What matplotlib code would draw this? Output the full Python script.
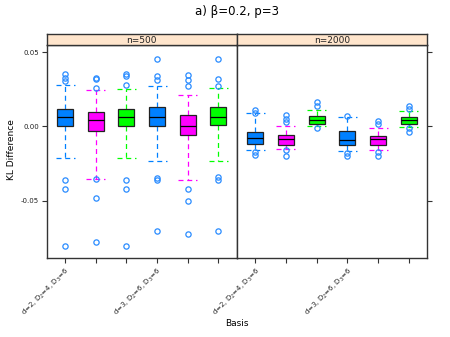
import numpy as np
import matplotlib
matplotlib.use('Agg')
import matplotlib.pyplot as plt

# box statistics (KL difference)
panels = ['n=500', 'n=2000']
basis_labels = ['d=2, D$_2$=4, D$_3$=6', '', '', 'd=3, D$_2$=6, D$_3$=6', '', '']
box_colors = ['#0080ff', '#ff00ff', '#00ff00', '#0080ff', '#ff00ff', '#00ff00']

# n=500
q1_500 = [0.0, -0.0029, 0.0, 0.0005, -0.0056, 0.0007]
med_500 = [0.0066, 0.0043, 0.0066, 0.0066, 0.0005, 0.0066]
q3_500 = [0.0120, 0.0095, 0.0120, 0.0128, 0.0076, 0.0128]
lo_500 = [-0.0210, -0.0356, -0.0210, -0.0230, -0.0358, -0.0230]
hi_500 = [0.0282, 0.0248, 0.0252, 0.0272, 0.0214, 0.0261]
out_500 = [
    [0.0351, 0.0329, 0.0306, -0.0358, -0.0419, -0.0809],
    [0.0329, 0.0318, 0.0261, -0.0356, -0.0482, -0.0782],
    [0.0356, 0.0338, 0.0282, -0.0358, -0.0419, -0.0809],
    [0.0457, 0.0342, 0.0315, -0.0347, -0.0360, -0.0707],
    [0.0347, 0.0315, 0.0275, -0.0421, -0.0500, -0.0725],
    [0.0457, 0.0320, 0.0275, -0.0338, -0.0358, -0.0707],
]

# n=2000
q1_2000 = [-0.0117, -0.0122, 0.0014, -0.0122, -0.0122, 0.0018]
med_2000 = [-0.0079, -0.0088, 0.0041, -0.0090, -0.0088, 0.0041]
q3_2000 = [-0.0038, -0.0056, 0.0068, -0.0032, -0.0063, 0.0063]
lo_2000 = [-0.0158, -0.0151, 0.0002, -0.0167, -0.0162, -0.0005]
hi_2000 = [0.0090, 0.0000, 0.0108, 0.0066, -0.0009, 0.0101]
out_2000 = [
    [0.0108, 0.0092, -0.0174, -0.0191],
    [0.0074, 0.0052, 0.0029, -0.0162, -0.0196],
    [0.0164, 0.0137, -0.0009],
    [0.0070, -0.0178, -0.0200],
    [0.0036, 0.0014, -0.0169, -0.0196],
    [0.0135, 0.0115, -0.0011, -0.0038],
]

data = [
    (q1_500, med_500, q3_500, lo_500, hi_500, out_500),
    (q1_2000, med_2000, q3_2000, lo_2000, hi_2000, out_2000),
]

fig = plt.figure(figsize=(4.5, 3.37), dpi=100)
W, H = 450, 337
frame_col = '#333333'

panel_px = [(46.7, 236.7), (236.7, 427.3)]
top_px, bot_px, strip_top = 45, 258.3, 34

for k, (x0, x1) in enumerate(panel_px):
    ax = fig.add_axes([x0 / W, (H - bot_px) / H, (x1 - x0) / W, (bot_px - top_px) / H])
    q1, med, q3, lo, hi, outs = data[k]
    stats = []
    for i in range(6):
        stats.append(dict(q1=q1[i], med=med[i], q3=q3[i], whislo=lo[i],
                          whishi=hi[i], fliers=outs[i]))
    res = ax.bxp(stats, positions=np.arange(1, 7), widths=0.52, patch_artist=True,
                 showfliers=True,
                 medianprops=dict(color='black', lw=0.9),
                 boxprops=dict(edgecolor='#222222', lw=0.9),
                 whiskerprops=dict(linestyle=(0, (4, 3)), lw=0.9),
                 capprops=dict(linestyle=(0, (4, 3)), lw=0.9),
                 capwidths=0.62,
                 flierprops=dict(marker='o', markersize=3.8, markerfacecolor='none',
                                 markeredgecolor='#2a8cff', markeredgewidth=0.9))
    for i in range(6):
        res['boxes'][i].set_facecolor(box_colors[i])
        for w in res['whiskers'][2 * i:2 * i + 2]:
            w.set_color(box_colors[i])
        for c in res['caps'][2 * i:2 * i + 2]:
            c.set_color(box_colors[i])
    # whiskers/caps drawn below boxes
    for w in res['whiskers'] + res['caps']:
        w.set_zorder(1)

    ax.set_xlim(0.4, 6.6)
    ax.set_ylim(-0.0889, 0.0549)
    ax.set_xticks(np.arange(1, 7))
    ax.set_xticklabels(basis_labels, rotation=45, ha='right', rotation_mode='anchor',
                       fontsize=5, color='#222222')
    ax.set_yticks([-0.05, 0.0, 0.05])
    if k == 0:
        ax.set_yticklabels(['-0.05', '0.00', '0.05'], fontsize=5, color='#222222')
        ax.tick_params(axis='y', left=True, right=False, labelleft=True)
    else:
        ax.tick_params(axis='y', left=False, right=True, labelleft=False)
    ax.tick_params(direction='out', length=3.5, width=0.8, color=frame_col, pad=2)
    for s in ax.spines.values():
        s.set_color(frame_col)
        s.set_linewidth(1.0)

    # strip on top
    sax = fig.add_axes([x0 / W, (H - top_px) / H, (x1 - x0) / W, (top_px - strip_top) / H])
    sax.set_facecolor('#ffe5cc')
    sax.set_xticks([])
    sax.set_yticks([])
    for s in sax.spines.values():
        s.set_color(frame_col)
        s.set_linewidth(1.0)
    sax.text(0.5, 0.45, panels[k], ha='center', va='center', fontsize=6.5,
             color='#222222', transform=sax.transAxes)

fig.text(237 / W, 1 - 11 / H, 'a) β=0.2, p=3', ha='center', va='center', fontsize=8.5)
fig.text(237 / W, 1 - 324 / H, 'Basis', ha='center', va='center', fontsize=6.5)
fig.text(12 / W, 1 - 150 / H, 'KL Difference', ha='center', va='center',
         rotation=90, fontsize=6.5)

fig.savefig('out.png', dpi=100)
